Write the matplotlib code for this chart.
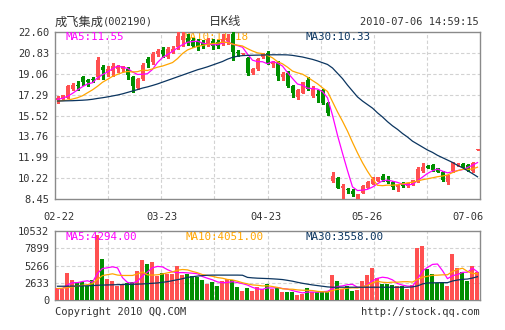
import matplotlib
matplotlib.use('Agg')
import matplotlib.pyplot as plt
import numpy as np
import pandas as pd

# ---------------- data ----------------
opens = [16.85, 17.00, 17.05, 17.80, 18.15, 18.75, 18.55, 18.60, 18.75, 19.60,
         19.10, 19.30, 19.50, 19.50, 19.45, 18.75, 17.85, 18.60, 20.30, 20.05,
         20.75, 21.10, 20.50, 20.90, 21.30, 21.90, 22.08, 21.90, 21.80, 21.75,
         21.60, 21.80, 21.75, 21.60, 21.80, 22.45, 20.90, 20.72, 20.40, 19.10,
         19.50, 20.50, 20.85, 19.88, 20.00, 18.80, 19.15, 18.05, 17.10, 17.45,
         18.55, 17.15, 17.37, 17.65, 16.60, 9.95, 10.20, 9.40, 9.25, 9.10,
         8.45, 9.00, 9.39, 9.73, 10.00, 10.42, 10.08, 9.93, 9.50, 9.78,
         9.55, 9.65, 9.95, 10.80, 11.25, 11.34, 11.05, 10.77, 9.85, 10.80,
         11.30, 11.40, 11.30, 10.80, 12.60]
highs = [17.15, 17.30, 18.10, 18.25, 18.45, 18.90, 18.65, 18.75, 20.45, 19.80,
         19.70, 19.95, 19.80, 19.75, 19.60, 18.85, 18.70, 20.00, 20.45, 20.90,
         21.15, 21.30, 21.30, 21.45, 22.66, 22.66, 22.40, 22.10, 22.00, 21.90,
         22.10, 22.00, 21.95, 22.45, 22.45, 22.60, 21.10, 20.85, 20.50, 19.55,
         20.40, 20.85, 20.95, 20.16, 20.15, 19.18, 19.30, 18.10, 17.80, 18.40,
         18.75, 18.05, 17.70, 17.80, 16.67, 10.75, 10.30, 9.75, 9.37, 9.30,
         8.90, 9.60, 9.95, 10.30, 10.35, 10.55, 10.40, 10.00, 9.66, 9.85,
         9.82, 10.10, 11.20, 11.50, 11.35, 11.45, 11.10, 10.85, 10.50, 11.55,
         11.48, 11.50, 11.40, 11.60, 12.66]
lows = [16.60, 16.90, 17.00, 17.70, 17.70, 18.10, 18.05, 18.35, 18.60, 18.65,
        18.90, 18.90, 19.20, 19.30, 18.60, 17.50, 17.80, 18.55, 19.60, 19.90,
        20.60, 20.50, 20.40, 20.80, 21.15, 21.45, 21.50, 21.30, 21.05, 21.25,
        21.45, 21.20, 21.25, 21.50, 21.60, 20.20, 20.60, 20.65, 18.95, 19.05,
        19.40, 20.40, 19.85, 19.60, 18.50, 18.50, 17.95, 17.10, 16.95, 17.40,
        17.65, 17.10, 16.67, 16.48, 15.56, 9.90, 9.34, 8.55, 8.95, 8.70,
        8.42, 8.95, 9.35, 9.70, 9.95, 10.00, 9.80, 9.30, 9.10, 9.45,
        9.50, 9.60, 9.90, 10.75, 11.05, 10.85, 10.70, 10.00, 9.70, 10.75,
        11.25, 11.15, 10.85, 10.75, 12.60]
closes = [17.05, 17.22, 18.00, 18.15, 18.05, 18.40, 18.40, 18.50, 20.25, 19.40,
          19.50, 19.75, 19.70, 19.70, 18.95, 18.00, 18.65, 19.80, 19.95, 20.75,
          20.95, 20.70, 21.15, 21.20, 22.30, 22.30, 21.70, 21.45, 21.35, 21.50,
          21.90, 21.40, 21.45, 22.00, 22.10, 20.90, 20.80, 20.75, 19.10, 19.50,
          20.30, 20.75, 19.90, 20.02, 18.85, 19.05, 18.00, 17.40, 17.65, 18.35,
          17.80, 17.85, 17.18, 16.55, 15.75, 10.40, 9.38, 9.55, 9.20, 8.85,
          8.85, 9.55, 9.90, 10.15, 10.28, 10.08, 9.85, 9.45, 9.62, 9.55,
          9.78, 10.05, 10.95, 11.20, 11.10, 10.91, 10.77, 10.07, 10.48, 11.55,
          11.40, 11.20, 10.92, 11.50, 12.66]
volumes = [1780, 1679, 4120, 3052, 2594, 2696, 2187, 3001, 9919, 6257,
           3205, 2950, 2187, 2442, 2594, 2696, 4476, 6104, 5494, 5850,
           3713, 4120, 3968, 3900, 5138, 3800, 3900, 3700, 3500, 3000,
           2500, 2700, 2100, 2900, 3200, 3100, 2000, 1300, 1800, 1425,
           1933, 1679, 2442, 1679, 1781, 1170, 1272, 1272, 763, 916,
           1831, 1272, 1170, 1170, 1170, 3815, 2950, 1679, 2086, 1425,
           1577, 2950, 3815, 4884, 3306, 2442, 2442, 2289, 2086, 2086,
           1679, 2289, 7884, 8291, 4731, 3968, 2595, 2798, 2188, 7020,
           4833, 4222, 2950, 5240, 4222]
ma30_price = [16.75, 16.76, 16.77, 16.78, 16.80, 16.82, 16.85, 16.90, 16.97, 17.03,
              17.10, 17.18, 17.26, 17.36, 17.48, 17.60, 17.72, 17.85, 17.95, 18.07,
              18.20, 18.35, 18.50, 18.65, 18.80, 18.95, 19.10, 19.25, 19.40, 19.52,
              19.65, 19.80, 19.95, 20.10, 20.30, 20.45, 20.55, 20.60, 20.62, 20.63,
              20.64, 20.65, 20.66, 20.67, 20.67, 20.67, 20.66, 20.62, 20.55, 20.48,
              20.38, 20.28, 20.15, 20.00, 19.85, 19.55, 19.10, 18.65, 18.10, 17.60,
              17.10, 16.75, 16.45, 16.15, 15.75, 15.40, 15.00, 14.65, 14.35, 14.00,
              13.70, 13.35, 13.10, 12.85, 12.60, 12.40, 12.15, 11.95, 11.75, 11.55,
              11.30, 11.10, 10.85, 10.60, 10.33]
ma30_volume = [2100, 2100, 2110, 2120, 2130, 2150, 2170, 2200, 2250, 2280,
               2300, 2320, 2340, 2360, 2380, 2400, 2420, 2450, 2500, 2550,
               2600, 2700, 2800, 2950, 3100, 3250, 3450, 3550, 3650, 3720,
               3780, 3800, 3800, 3800, 3800, 3800, 3800, 3780, 3450, 3380,
               3330, 3300, 3270, 3230, 3180, 3120, 3000, 2870, 2700, 2550,
               2420, 2300, 2200, 2100, 2000, 1950, 1950, 1950, 1950, 1950,
               1950, 1950, 1950, 1950, 1950, 1950, 1950, 1950, 1950, 1950,
               1950, 2000, 2150, 2450, 2600, 2620, 2640, 2650, 2650, 2900,
               3050, 3150, 3200, 3350, 3558]
# first points of the short moving averages (window reaches before the view)
ma5_head = [16.90, 16.98, 17.15, 17.40]
ma10_head = [16.75, 16.78, 16.83, 16.92, 17.03, 17.20, 17.45, 17.70, 18.00]
vma5_head = [1700, 1750, 2300, 2650]
vma10_head = [1750, 1800, 1900, 2000, 2150, 2250, 2350, 2500, 3150]

price_ticks = [8.45, 10.22, 11.99, 13.76, 15.52, 17.29, 19.06, 20.83, 22.60]
price_tick_labels = ['8.45', '10.22', '11.99', '13.76', '15.52', '17.29', '19.06', '20.83', '22.60']
vol_ticks = [0, 2633, 5266, 7899, 10532]
vol_tick_labels = ['0', '2633', '5266', '7899', '10532']
date_labels = ['02-22', '03-23', '04-23', '05-26', '07-06']
date_label_px = [59, 162, 266, 367, 468]

ma_price_labels = ['MA5:11.55', 'MA10:11.18', 'MA30:10.33']
ma_vol_labels = ['MA5:4294.00', 'MA10:4051.00', 'MA30:3558.00']


def moving_avg(values, n, head):
    s = pd.Series(values, dtype=float).rolling(n).mean().to_numpy()
    s[:len(head)] = head
    return s


# ---------------- style ----------------
RED = '#ff5050'
GREEN = '#008f00'
MAG = '#ff00ff'
ORA = '#ffa500'
NAVY = '#0b3560'
TXT = '#333333'
FRAME = '#8a8a8a'
GRID = '#d2d2d2'
MONO = 'DejaVu Sans Mono'
CJK = ['Noto Sans CJK SC', 'DejaVu Sans']
W, H = 505, 330

fig = plt.figure(figsize=(W / 100, H / 100), dpi=100)
fig.patch.set_facecolor('white')


def fx(px):
    return px / W


def fy(py):
    return 1 - py / H


ax = fig.add_axes([fx(55), (H - 199) / H, 425 / W, 167 / H])
axv = fig.add_axes([fx(55), 30 / H, 425 / W, 69 / H])

n = len(closes)
idx = np.arange(n)
o = np.array(opens)
c = np.array(closes)
hi = np.array(highs)
lo = np.array(lows)
up = c >= o
cols = np.where(up, RED, GREEN)

vgrid = [-0.5 + 85 / 8 * k for k in range(1, 8)]

for a in (ax, axv):
    a.set_xlim(-0.5, n - 0.5)
    for s in a.spines.values():
        s.set_color(FRAME)
        s.set_linewidth(1.0)
    a.tick_params(axis='both', length=0, labelsize=7.5, labelcolor=TXT, pad=4)
    a.set_xticks([])
    for xv in vgrid:
        a.axvline(xv, color=GRID, lw=0.8, ls=(0, (3, 2)), zorder=0)

# ---------------- price panel ----------------
ax.set_ylim(price_ticks[0], price_ticks[-1])
ax.set_yticks(price_ticks)
ax.set_yticklabels(price_tick_labels, fontfamily=MONO)
for yv in price_ticks[1:-1]:
    ax.axhline(yv, color=GRID, lw=0.8, ls=(0, (3, 2)), zorder=0)

# one slot = 5 px; body 3 px wide, wick 1 px in its middle
ax.vlines(idx, lo, hi, colors=cols, lw=0.75, zorder=3, antialiased=False)
body_bottom = np.minimum(o, c)
body_h = np.maximum(np.abs(c - o), 0.08)
ax.bar(idx - 0.3, body_h, bottom=body_bottom, width=0.6, align='edge',
       color=cols, linewidth=0, zorder=4, antialiased=False)

ma5 = moving_avg(closes, 5, ma5_head)
ma10 = moving_avg(closes, 10, ma10_head)
ax.plot(idx, ma5, color=MAG, lw=0.9, zorder=5)
ax.plot(idx, ma10, color=ORA, lw=0.9, zorder=5)
ax.plot(idx, ma30_price, color=NAVY, lw=0.9, zorder=5)

ax.text((65 - 55) / 425, 0.972, ma_price_labels[0], transform=ax.transAxes,
        color=MAG, fontsize=7.8, fontfamily=MONO, va='center', zorder=6)
ax.text((183 - 55) / 425, 0.972, ma_price_labels[1], transform=ax.transAxes,
        color=ORA, fontsize=7.8, fontfamily=MONO, va='center', zorder=1)
ax.text((305 - 55) / 425, 0.972, ma_price_labels[2], transform=ax.transAxes,
        color=NAVY, fontsize=7.8, fontfamily=MONO, va='center', zorder=6)

# ---------------- volume panel ----------------
axv.set_ylim(vol_ticks[0], vol_ticks[-1])
axv.set_yticks(vol_ticks)
axv.set_yticklabels(vol_tick_labels, fontfamily=MONO)
for yv in vol_ticks[1:-1]:
    axv.axhline(yv, color=GRID, lw=0.8, ls=(0, (3, 2)), zorder=0)

axv.bar(idx - 0.5, volumes, width=0.8, align='edge', color=cols, linewidth=0,
        zorder=3, antialiased=False)
vma5 = moving_avg(volumes, 5, vma5_head)
vma10 = moving_avg(volumes, 10, vma10_head)
axv.plot(idx, vma5, color=MAG, lw=0.9, zorder=5)
axv.plot(idx, vma10, color=ORA, lw=0.9, zorder=5)
axv.plot(idx, ma30_volume, color=NAVY, lw=0.9, zorder=5)

for lab, xp, col in zip(ma_vol_labels, [65, 185, 305], [MAG, ORA, NAVY]):
    axv.text((xp - 55) / 425, 0.915, lab, transform=axv.transAxes, color=col,
             fontsize=7.8, fontfamily=MONO, va='center', zorder=6)

# ---------------- texts around ----------------
for lab, xp in zip(date_labels, date_label_px):
    fig.text(fx(xp), fy(216.5), lab, ha='center', va='center', fontsize=7.5,
             fontfamily=MONO, color=TXT)

fig.text(fx(55), fy(22), '成飞集成', fontsize=8.8, family=CJK, color=TXT, va='center')
fig.text(fx(103), fy(22), '(002190)', fontsize=7.5, fontfamily=MONO, color=TXT, va='center')
fig.text(fx(225), fy(22), '日K线', fontsize=8.8, family=CJK, color=TXT, va='center', ha='center')
fig.text(fx(479), fy(22), '2010-07-06 14:59:15', fontsize=7.5, fontfamily=MONO,
         color=TXT, va='center', ha='right')
fig.text(fx(55), fy(312), 'Copyright 2010 QQ.COM', fontsize=7.5, fontfamily=MONO,
         color=TXT, va='center')
fig.text(fx(480), fy(312), 'http://stock.qq.com', fontsize=7.5, fontfamily=MONO,
         color=TXT, va='center', ha='right')

fig.savefig('out.png', dpi=100, facecolor='white')
